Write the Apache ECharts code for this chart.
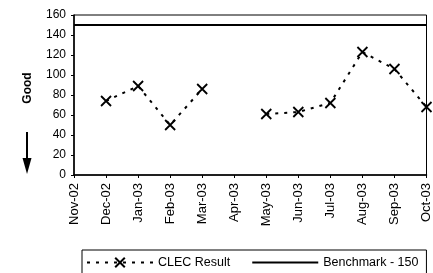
<!DOCTYPE html>
<html>
<head>
<meta charset="utf-8">
<script src="https://cdn.jsdelivr.net/npm/echarts@6/dist/echarts.min.js"></script>
<style>
  html, body { margin: 0; padding: 0; background: #fff; }
  #chart { width: 433px; height: 273px; }
</style>
</head>
<body>
<div id="chart"></div>
<script>
var months = ["Nov-02", "Dec-02", "Jan-03", "Feb-03", "Mar-03", "Apr-03", "May-03", "Jun-03", "Jul-03", "Aug-03", "Sep-03", "Oct-03"];
var clecResult = [null, 74, 89, 50, 86, null, 61, 63, 72, 123, 106, 68];
var benchmark = [150, 150, 150, 150, 150, 150, 150, 150, 150, 150, 150, 150];
var yTicks = { min: 0, max: 160, interval: 20 };

var mychart = echarts.init(document.getElementById("chart"));
var font = "Liberation Sans, Arial, sans-serif";
var option = {
  animation: false,
  grid: {
    left: 74, right: 2, top: 15, bottom: 98,
    show: true, borderColor: "#000", borderWidth: 1
  },
  xAxis: {
    type: "category",
    data: months,
    boundaryGap: false,
    axisLine: { lineStyle: { color: "#000", width: 1.5 } },
    axisTick: { alignWithLabel: true, length: 3, lineStyle: { color: "#000" } },
    axisLabel: { rotate: 90, color: "#000", fontFamily: font, fontSize: 13, margin: 8 },
    splitLine: { show: false }
  },
  yAxis: {
    type: "value",
    min: yTicks.min, max: yTicks.max, interval: yTicks.interval,
    axisLine: { show: true, lineStyle: { color: "#000", width: 1.5 } },
    axisTick: { show: true, length: 3, lineStyle: { color: "#000" } },
    axisLabel: { color: "#000", fontFamily: font, fontSize: 12, margin: 8 },
    splitLine: { show: false }
  },
  legend: {
    left: 82, bottom: -6,
    padding: [6, 8, 10, 4],
    borderColor: "#000", borderWidth: 1,
    itemGap: 21,
    itemWidth: 66, itemHeight: 12,
    textStyle: { color: "#000", fontFamily: font, fontSize: 12.5 },
    data: [
      { name: "CLEC Result" },
      { name: "Benchmark - 150", itemStyle: { opacity: 0 } }
    ]
  },
  graphic: [
    {
      type: "text", x: 28, y: 88, rotation: Math.PI / 2,
      style: { text: "Good", align: "center", verticalAlign: "middle", fill: "#000", font: "bold 12px " + font }
    },
    { type: "line", shape: { x1: 27, y1: 132, x2: 27, y2: 160 }, style: { stroke: "#000", lineWidth: 2 } },
    { type: "polygon", shape: { points: [[22.5, 158], [31.5, 158], [27, 174]] }, style: { fill: "#000" } }
  ],
  series: [
    {
      name: "CLEC Result",
      type: "line",
      data: clecResult,
      symbol: "path://M0,0L10,10M10,0L0,10",
      symbolSize: 10,
      connectNulls: false,
      itemStyle: { color: "#fff", borderColor: "#000", borderWidth: 1.8 },
      lineStyle: { color: "#000", width: 2, type: [3, 6] },
      z: 3
    },
    {
      name: "Benchmark - 150",
      type: "line",
      data: benchmark,
      symbol: "none",
      itemStyle: { color: "#000" },
      lineStyle: { color: "#000", width: 2 },
      z: 2
    }
  ]
};
mychart.setOption(option, true);
</script>
</body>
</html>
